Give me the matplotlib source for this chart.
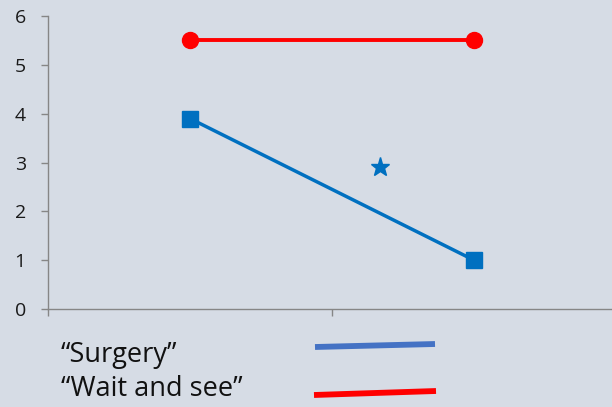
import matplotlib.pyplot as plt
from matplotlib.lines import Line2D

plt.rcParams['font.family'] = ['Open Sans', 'DejaVu Sans']

# two time points, one per category slot
positions = [0, 1]
surgery = [3.9, 1.0]
wait_and_see = [5.5, 5.5]
star_x, star_y = 0.67, 2.9
yticks = [0, 1, 2, 3, 4, 5, 6]
legend_labels = ['\u201cSurgery\u201d', '\u201cWait and see\u201d']

bg = '#D6DCE5'
blue = '#0070C0'
red = '#FF0000'
axis_grey = '#868686'

fig = plt.figure(figsize=(6.12, 4.07), dpi=100, facecolor=bg)
ax = fig.add_axes([48 / 612, 98 / 407, 568 / 612, 293 / 407])
ax.set_facecolor(bg)

ax.plot(positions, wait_and_see, color=red, lw=2.8, marker='o', ms=11.5, zorder=3)
ax.plot(positions, surgery, color=blue, lw=2.5, marker='s', ms=11, zorder=3)
ax.plot([star_x], [star_y], color=blue, marker='*', ms=14, ls='none', zorder=3)

ax.set_xlim(-0.5, 1.5)
ax.set_ylim(0, 6)
ax.set_yticks(yticks)
ax.set_xticks([-0.5, 0.5, 1.5])
ax.set_xticklabels([])
for side in ['top', 'right']:
    ax.spines[side].set_visible(False)
for side in ['left', 'bottom']:
    ax.spines[side].set_color(axis_grey)
    ax.spines[side].set_linewidth(1.0)
ax.tick_params(axis='both', colors=axis_grey, length=5, width=1.0,
               labelcolor='#1a1a1a', labelsize=14)
ax.tick_params(axis='y', pad=11)

# legend drawn by hand below the plot
fig.text(61 / 612, 1 - 355 / 407, legend_labels[0], fontsize=19.5,
         va='center', ha='left', color='#111111')
fig.text(61 / 612, 1 - 389 / 407, legend_labels[1], fontsize=19.5,
         va='center', ha='left', color='#111111')
fig.add_artist(Line2D([315 / 612, 435 / 612], [1 - 347 / 407, 1 - 344 / 407],
                      color='#4472C4', lw=4.2, solid_capstyle='butt'))
fig.add_artist(Line2D([314 / 612, 436 / 612], [1 - 395 / 407, 1 - 391 / 407],
                      color=red, lw=4.2, solid_capstyle='butt'))

fig.savefig('out.png', dpi=100, facecolor=bg)
